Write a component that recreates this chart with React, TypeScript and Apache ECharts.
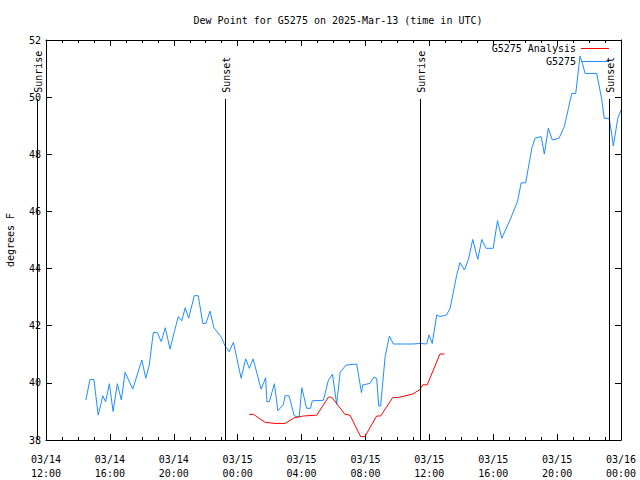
import React, { useEffect, useRef } from "react";
import * as echarts from "echarts";

const titleText = "Dew Point for G5275 on 2025-Mar-13 (time in UTC)";
const yAxisName = "degrees F";
const seriesNames = ["G5275 Analysis", "G5275"];

const xStart = "03/14 12:00";
const xEnd = "03/16 00:00";
const xStepHours = 4;
const yMin = 38;
const yMax = 52;
const yStep = 2;

const blueTimes = [
  "03/14 14:30", "03/14 14:45", "03/14 15:00", "03/14 15:16", "03/14 15:27", "03/14 15:33",
  "03/14 15:44", "03/14 15:58", "03/14 16:12", "03/14 16:28", "03/14 16:43", "03/14 16:57",
  "03/14 17:26", "03/14 18:00", "03/14 18:15", "03/14 18:28", "03/14 18:43", "03/14 18:58",
  "03/14 19:13", "03/14 19:28", "03/14 19:46", "03/14 20:02", "03/14 20:17", "03/14 20:30",
  "03/14 20:43", "03/14 20:56", "03/14 21:17", "03/14 21:32", "03/14 21:49", "03/14 22:01",
  "03/14 22:16", "03/14 22:31", "03/14 23:00", "03/14 23:12", "03/14 23:28", "03/14 23:44",
  "03/15 00:13", "03/15 00:30", "03/15 00:44", "03/15 00:58", "03/15 01:28", "03/15 01:45",
  "03/15 01:50", "03/15 01:59", "03/15 02:18", "03/15 02:31", "03/15 02:52", "03/15 02:58",
  "03/15 03:13", "03/15 03:32", "03/15 03:51", "03/15 04:01", "03/15 04:19", "03/15 04:34",
  "03/15 04:40", "03/15 05:22", "03/15 05:41", "03/15 05:56", "03/15 06:12", "03/15 06:25",
  "03/15 06:47", "03/15 07:27", "03/15 07:33", "03/15 07:45", "03/15 07:50", "03/15 08:17",
  "03/15 08:30", "03/15 08:42", "03/15 08:50", "03/15 08:57", "03/15 09:14", "03/15 09:30",
  "03/15 09:45", "03/15 10:58", "03/15 11:25", "03/15 11:50", "03/15 11:59", "03/15 12:11",
  "03/15 12:28", "03/15 12:40", "03/15 13:05", "03/15 13:18", "03/15 13:43", "03/15 13:55",
  "03/15 14:12", "03/15 14:27", "03/15 14:43", "03/15 15:02", "03/15 15:17", "03/15 15:33",
  "03/15 16:00", "03/15 16:16", "03/15 16:32", "03/15 17:03", "03/15 17:31", "03/15 17:45",
  "03/15 18:02", "03/15 18:25", "03/15 18:37", "03/15 19:00", "03/15 19:12", "03/15 19:27",
  "03/15 19:42", "03/15 20:07", "03/15 20:27", "03/15 20:55", "03/15 21:10", "03/15 21:26",
  "03/15 21:35", "03/15 21:45", "03/15 22:29", "03/15 22:48", "03/15 22:57", "03/15 23:15",
  "03/15 23:23", "03/15 23:31", "03/15 23:48", "03/16 00:00",
];
const blueValues = [
  39.4, 40.12, 40.12, 38.87, 39.28, 39.55,
  39.34, 39.97, 39.0, 39.97, 39.4, 40.37,
  39.78, 40.8, 40.16, 40.62, 41.76, 41.76,
  41.44, 41.93, 41.18, 41.79, 42.32, 42.17,
  42.63, 42.26, 43.05, 43.05, 42.08, 42.08,
  42.51, 41.93, 41.58, 41.3, 41.09, 41.42,
  40.16, 40.84, 40.51, 40.84, 39.78, 40.18,
  39.34, 39.34, 39.97, 39.02, 39.25, 39.55,
  39.55, 38.85, 38.8, 39.83, 39.11, 39.11,
  39.37, 39.39, 40.1, 40.3, 39.25, 40.37,
  40.62, 40.66, 40.33, 39.66, 39.93, 39.98,
  40.19, 40.16, 39.19, 39.19, 40.92, 41.64,
  41.36, 41.36, 41.38, 41.36, 41.68, 41.38,
  42.38, 42.32, 42.38, 42.61, 43.78, 44.21,
  43.95, 44.32, 45.02, 44.32, 45.02, 44.71,
  44.71, 45.68, 45.06, 45.7, 46.34, 47.0,
  47.0, 48.21, 48.56, 48.62, 48.01, 48.91,
  48.5, 48.56, 48.97, 50.13, 50.13, 51.44,
  51.18, 50.83, 50.83, 49.9, 49.26, 49.26,
  48.85, 48.29, 49.26, 49.55,
];

const redTimes = [
  "03/15 00:43", "03/15 00:59", "03/15 01:43", "03/15 02:20", "03/15 02:58", "03/15 03:33",
  "03/15 04:07", "03/15 04:57", "03/15 05:41", "03/15 05:53", "03/15 06:43", "03/15 07:02",
  "03/15 07:42", "03/15 07:58", "03/15 08:42", "03/15 08:57", "03/15 09:43", "03/15 10:04",
  "03/15 10:58", "03/15 11:25", "03/15 11:35", "03/15 11:52", "03/15 12:40", "03/15 12:57",
];
const redValues = [
  38.9, 38.9, 38.62, 38.58, 38.58, 38.78,
  38.84, 38.87, 39.5, 39.5, 38.9, 38.87,
  38.12, 38.12, 38.84, 38.84, 39.49, 39.49,
  39.61, 39.77, 39.93, 39.93, 41.01, 41.01,
];

const sunLabels = ["Sunrise", "Sunset", "Sunrise", "Sunset"];
const sunTimes = ["03/14 11:27", "03/14 23:14", "03/15 11:25", "03/15 23:16"];
const sunLineTop = 49.94;

const FONT = "DejaVu Sans Mono";

function parseT(s: string): number {
  const [md, hm] = s.split(" ");
  const [mo, d] = md.split("/").map(Number);
  const [h, m] = hm.split(":").map(Number);
  return Date.UTC(2025, mo - 1, d, h, m);
}

function pad(n: number) {
  return n < 10 ? "0" + n : "" + n;
}

function fmt(v: number) {
  const d = new Date(v);
  return (
    pad(d.getUTCMonth() + 1) + "/" + pad(d.getUTCDate()) + "\n" +
    pad(d.getUTCHours()) + ":" + pad(d.getUTCMinutes())
  );
}

export default function App() {
  const ref = useRef<HTMLDivElement>(null);
  useEffect(() => {
    if (!ref.current) return;
    const chart = echarts.init(ref.current, undefined, { renderer: "svg" });
    const xMin = parseT(xStart);
    const xMax = parseT(xEnd);
    const step = xStepHours * 3600 * 1000;
    const axisLineStyle = { color: "#000", width: 1 };
    const baseX = {
      type: "value" as const,
      min: xMin,
      max: xMax,
      interval: step,
      splitLine: { show: false },
      axisLine: { show: true, lineStyle: axisLineStyle },
      axisTick: { show: true, inside: true, length: 6, lineStyle: axisLineStyle },
      minorTick: { show: true, splitNumber: 4, length: 3, lineStyle: axisLineStyle },
    };
    const baseY = {
      type: "value" as const,
      min: yMin,
      max: yMax,
      interval: yStep,
      splitLine: { show: false },
      axisLine: { show: true, lineStyle: axisLineStyle },
      axisTick: { show: true, inside: true, length: 6, lineStyle: axisLineStyle },
      minorTick: { show: false },
    };
    chart.setOption({
      animation: false,
      backgroundColor: "#fff",
      title: {
        text: titleText,
        left: 333,
        top: 10,
        textAlign: "center",
        textStyle: { fontFamily: FONT, fontSize: 10, fontWeight: "normal", color: "#000" },
      },
      grid: {
        left: 46,
        right: 19,
        top: 40,
        bottom: 40,
        containLabel: false,
        outerBoundsMode: "none",
      },
      legend: {
        orient: "vertical",
        right: 31,
        top: 42,
        padding: 0,
        align: "right",
        itemWidth: 28,
        itemHeight: 1,
        itemGap: 0,
        selectedMode: false,
        textStyle: { fontFamily: FONT, fontSize: 10, color: "#000", lineHeight: 13 },
        data: [
          { name: seriesNames[0], icon: "rect" },
          { name: seriesNames[1], icon: "rect" },
        ],
      },
      xAxis: [
        {
          ...baseX,
          position: "bottom",
          axisLabel: {
            show: true,
            formatter: (v: number) => fmt(v),
            fontFamily: FONT,
            fontSize: 10,
            color: "#000",
            lineHeight: 14,
            margin: 12,
            showMinLabel: true,
            showMaxLabel: true,
          },
        },
        { ...baseX, position: "top", axisLabel: { show: false } },
      ],
      yAxis: [
        {
          ...baseY,
          position: "left",
          name: yAxisName,
          nameLocation: "middle",
          nameRotate: 90,
          nameGap: 31,
          nameTextStyle: { fontFamily: FONT, fontSize: 10, color: "#000" },
          axisLabel: { show: true, fontFamily: FONT, fontSize: 10, color: "#000", margin: 5 },
        },
        { ...baseY, position: "right", axisLabel: { show: false } },
      ],
      series: [
        {
          name: seriesNames[0],
          type: "line",
          xAxisIndex: 0,
          yAxisIndex: 0,
          symbol: "none",
          showSymbol: false,
          color: "#ff0000",
          lineStyle: { color: "#ff0000", width: 1 },
          data: redTimes.map((t, i) => [parseT(t), redValues[i]]),
          z: 3,
        },
        {
          name: seriesNames[1],
          type: "line",
          xAxisIndex: 0,
          yAxisIndex: 0,
          symbol: "none",
          showSymbol: false,
          color: "#1e8cff",
          lineStyle: { color: "#1e8cff", width: 1 },
          data: blueTimes.map((t, i) => [parseT(t), blueValues[i]]),
          z: 2,
        },
      ],
    });

    const graphics: any[] = [];
    sunTimes.forEach((st, i) => {
      const t = parseT(st);
      const pTop = chart.convertToPixel({ xAxisIndex: 0, yAxisIndex: 0 }, [t, sunLineTop]) as number[];
      const pBot = chart.convertToPixel({ xAxisIndex: 0, yAxisIndex: 0 }, [t, yMin]) as number[];
      const x = Math.round(pTop[0]) + 0.5;
      graphics.push({
        type: "line",
        shape: { x1: x, y1: pTop[1], x2: x, y2: pBot[1] },
        style: { stroke: "#000", lineWidth: 1 },
        z: 10,
      });
      graphics.push({
        type: "text",
        x: x + 1,
        y: pTop[1] - 6,
        rotation: Math.PI / 2,
        style: {
          text: sunLabels[i],
          fontFamily: FONT,
          fontSize: 10,
          fill: "#000",
          align: "left",
          verticalAlign: "middle",
        },
        z: 10,
      });
    });
    chart.setOption({ graphic: graphics });

    return () => chart.dispose();
  }, []);
  return (
    <div
      ref={ref}
      style={{ position: "absolute", left: 0, top: 0, width: 640, height: 480, background: "#fff" }}
    />
  );
}
